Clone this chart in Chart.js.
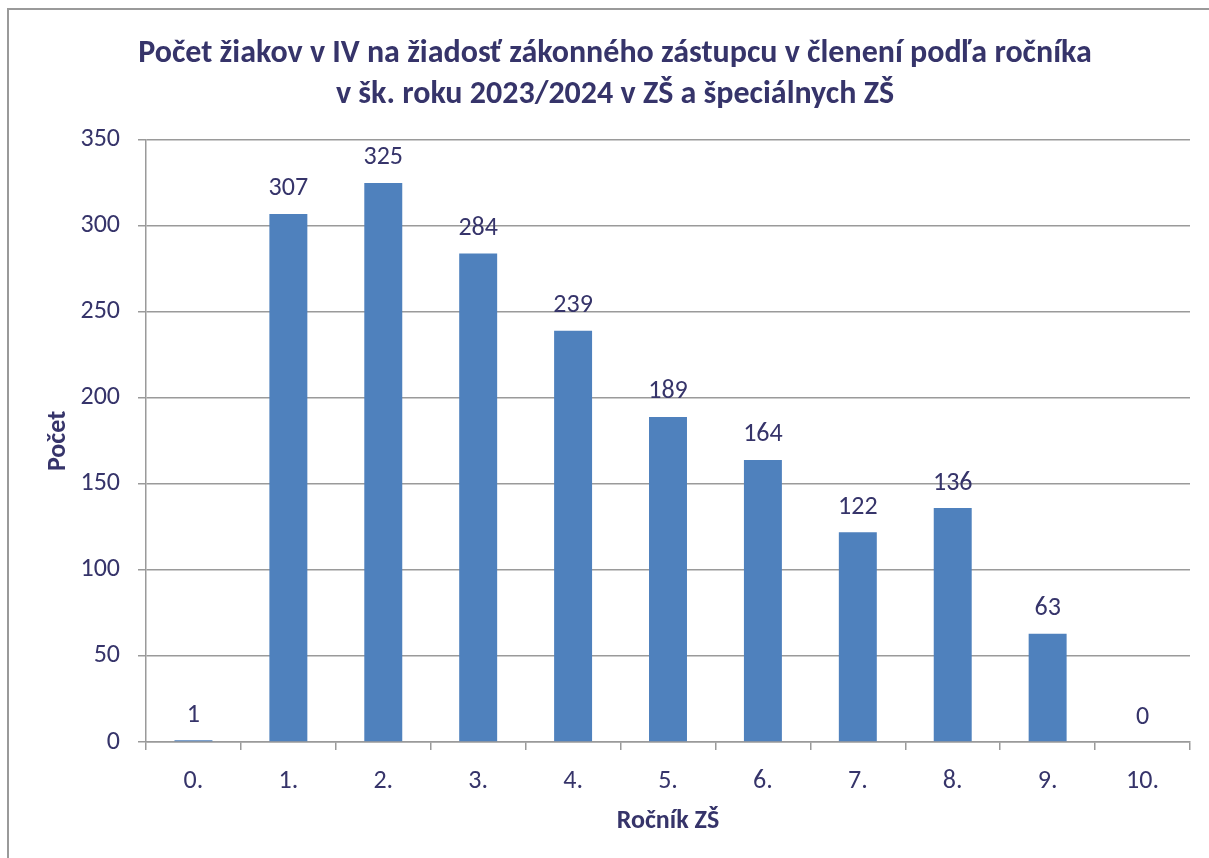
<!DOCTYPE html>
<html>
<head>
<meta charset="utf-8">
<script src="https://cdn.jsdelivr.net/npm/chart.js@4.4.1/dist/chart.umd.min.js"></script>
<style>
  body { margin: 0; background: #fff; }
  #wrap { position: relative; width: 1209px; height: 858px; }
  #frame {
    position: absolute; left: 7px; top: 8px; right: -5px; bottom: -5px;
    border-top: 2px solid #9a9a9a; border-left: 2px solid #9a9a9a;
    pointer-events: none;
  }
</style>
</head>
<body>
<div id="wrap">
  <canvas id="chart" width="1209" height="858"></canvas>
  <div id="frame"></div>
</div>
<script>
// udaje z grafu
const rocniky = ["0.", "1.", "2.", "3.", "4.", "5.", "6.", "7.", "8.", "9.", "10."];
const pocty = [1, 307, 325, 284, 239, 189, 164, 122, 136, 63, 0];
const nadpis = [
  "Počet žiakov v IV na žiadosť zákonného zástupcu v členení podľa ročníka",
  "v šk. roku 2023/2024 v ZŠ a špeciálnych ZŠ"
];

const textColor = "#36346a";
const gridColor = "#9a9a9a";
const font = "Carlito, Lato, sans-serif";

// popisky hodnot nad stlpcami
const hodnotyPlugin = {
  id: "hodnoty",
  afterLayout(chart) {
    // nadpis je v originali trochu posunuty doprava
    chart.titleBlock.left = 40;
  },
  afterDatasetsDraw(chart) {
    const ctx = chart.ctx;
    const meta = chart.getDatasetMeta(0);
    ctx.save();
    ctx.font = "26px " + font;
    ctx.fillStyle = textColor;
    ctx.textAlign = "center";
    ctx.textBaseline = "middle";
    meta.data.forEach(function (bar, i) {
      ctx.fillText(String(pocty[i]), bar.x, bar.y - 25);
    });
    ctx.restore();
  }
};

new Chart(document.getElementById("chart"), {
  type: "bar",
  data: {
    labels: rocniky,
    datasets: [{
      data: pocty,
      backgroundColor: "#4f81bd",
      categoryPercentage: 1,
      barPercentage: 0.4
    }]
  },
  options: {
    responsive: false,
    animation: false,
    layout: { padding: { left: 0, right: 19, top: 0, bottom: 0 } },
    plugins: {
      legend: { display: false },
      tooltip: { enabled: false },
      title: {
        display: true,
        text: nadpis,
        color: textColor,
        font: { family: font, size: 32, weight: "bold", lineHeight: 1.28 },
        padding: { top: 34, bottom: 24 }
      }
    },
    scales: {
      x: {
        offset: true,
        grid: {
          offset: true,
          drawOnChartArea: false,
          drawTicks: true,
          tickLength: 8,
          color: gridColor,
          lineWidth: 1.5
        },
        border: { color: gridColor, width: 1.5 },
        ticks: { color: textColor, font: { family: font, size: 26 }, padding: 16 },
        title: {
          display: true,
          text: "Ročník ZŠ",
          color: textColor,
          font: { family: font, size: 26, weight: "bold" },
          padding: { top: 0, bottom: 21 }
        },
        afterFit(scale) { scale.height = 116; }
      },
      y: {
        min: 0,
        max: 350,
        ticks: { stepSize: 50, color: textColor, font: { family: font, size: 26 }, padding: 18 },
        grid: { color: gridColor, lineWidth: 1.5, tickLength: 8 },
        border: { color: gridColor, width: 1.5 },
        title: {
          display: true,
          text: "Počet",
          color: textColor,
          font: { family: font, size: 26, weight: "bold" },
          padding: { top: 43, bottom: 0 }
        },
        afterFit(scale) { scale.width = 146; }
      }
    }
  },
  plugins: [hodnotyPlugin]
});
</script>
</body>
</html>
